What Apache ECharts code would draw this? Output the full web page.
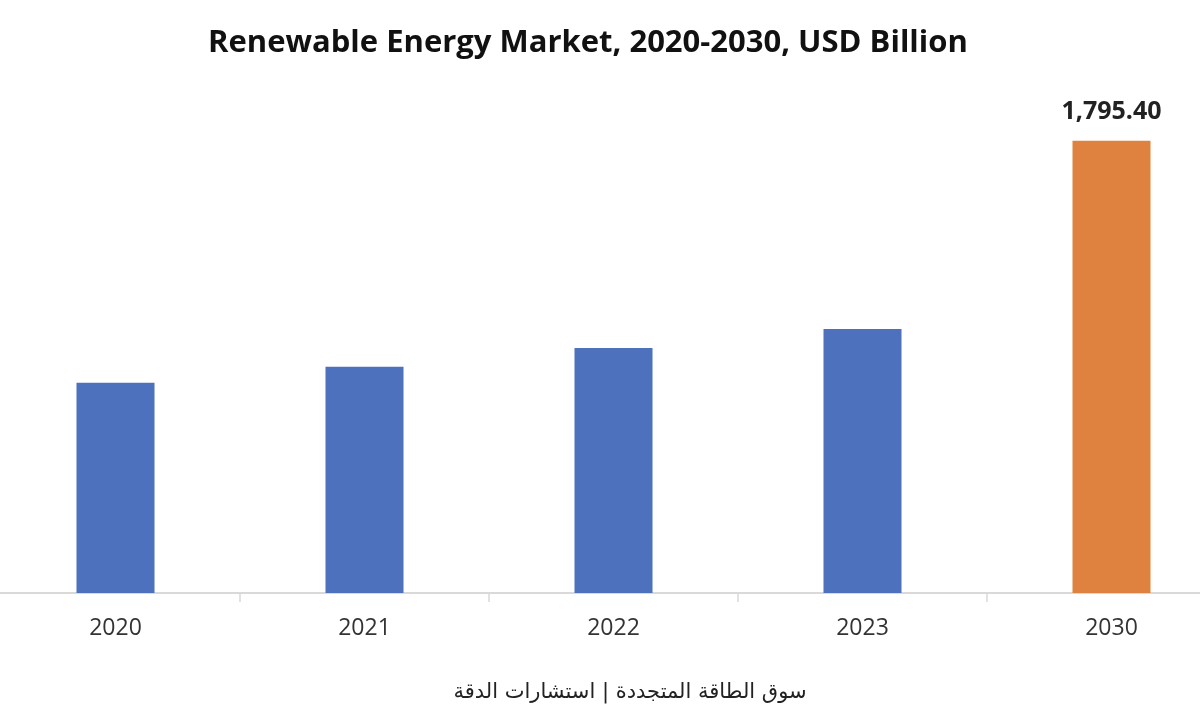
<!DOCTYPE html>
<html>
<head>
<meta charset="utf-8">
<script src="https://cdn.jsdelivr.net/npm/echarts@6/dist/echarts.min.js"></script>
<style>
  html, body { margin: 0; padding: 0; background: #fff; }
  #chart { width: 1200px; height: 715px; }
</style>
</head>
<body>
<div id="chart"></div>
<script>
// values (USD billion)
var years = ['2020', '2021', '2022', '2023', '2030'];
var marketSize = [835, 898, 973, 1048, 1795.4];
var barColors = ['#4e71be', '#4e71be', '#4e71be', '#4e71be', '#e0823f'];
var labelledYear = '2030';

var chart = echarts.init(document.getElementById('chart'));

var option = {
    backgroundColor: '#ffffff',
    animation: false,
    title: [
        {
            text: 'Renewable Energy Market, 2020-2030, USD Billion',
            left: 203,
            top: 23,
            textStyle: {
                fontFamily: 'Open Sans',
                fontWeight: 'bold',
                fontSize: 31,
                color: '#111111'
            }
        },
        {
            text: 'سوق الطاقة المتجددة | استشارات الدقة',
            left: 625,
            top: 677,
            textAlign: 'center',
            textStyle: {
                fontFamily: 'DejaVu Sans',
                fontWeight: 'normal',
                fontSize: 21,
                color: '#222222'
            }
        }
    ],
    grid: {
        left: -9,
        right: -36,
        top: 100,
        bottom: 122,
        outerBoundsMode: 'none'
    },
    xAxis: {
        type: 'category',
        data: years,
        axisLine: { lineStyle: { color: '#d9d9d9', width: 2 } },
        axisTick: { show: true, length: 9, lineStyle: { color: '#d9d9d9', width: 1.5 } },
        axisLabel: {
            margin: 24,
            fontFamily: 'Open Sans',
            fontSize: 23,
            color: '#333333'
        }
    },
    yAxis: {
        type: 'value',
        min: 0,
        max: 1957,
        show: false,
        splitLine: { show: false }
    },
    series: [
        {
            type: 'bar',
            barWidth: 78,
            data: marketSize.map(function (v, i) {
                return {
                    value: v,
                    itemStyle: { color: barColors[i] },
                    label: {
                        show: years[i] === labelledYear,
                        position: 'top',
                        distance: 16,
                        fontFamily: 'Open Sans',
                        fontWeight: 'bold',
                        fontSize: 25,
                        color: '#222222',
                        formatter: function (p) {
                            return p.value.toLocaleString('en-US', { minimumFractionDigits: 2, maximumFractionDigits: 2 });
                        }
                    }
                };
            })
        }
    ]
};

chart.setOption(option);
</script>
</body>
</html>
